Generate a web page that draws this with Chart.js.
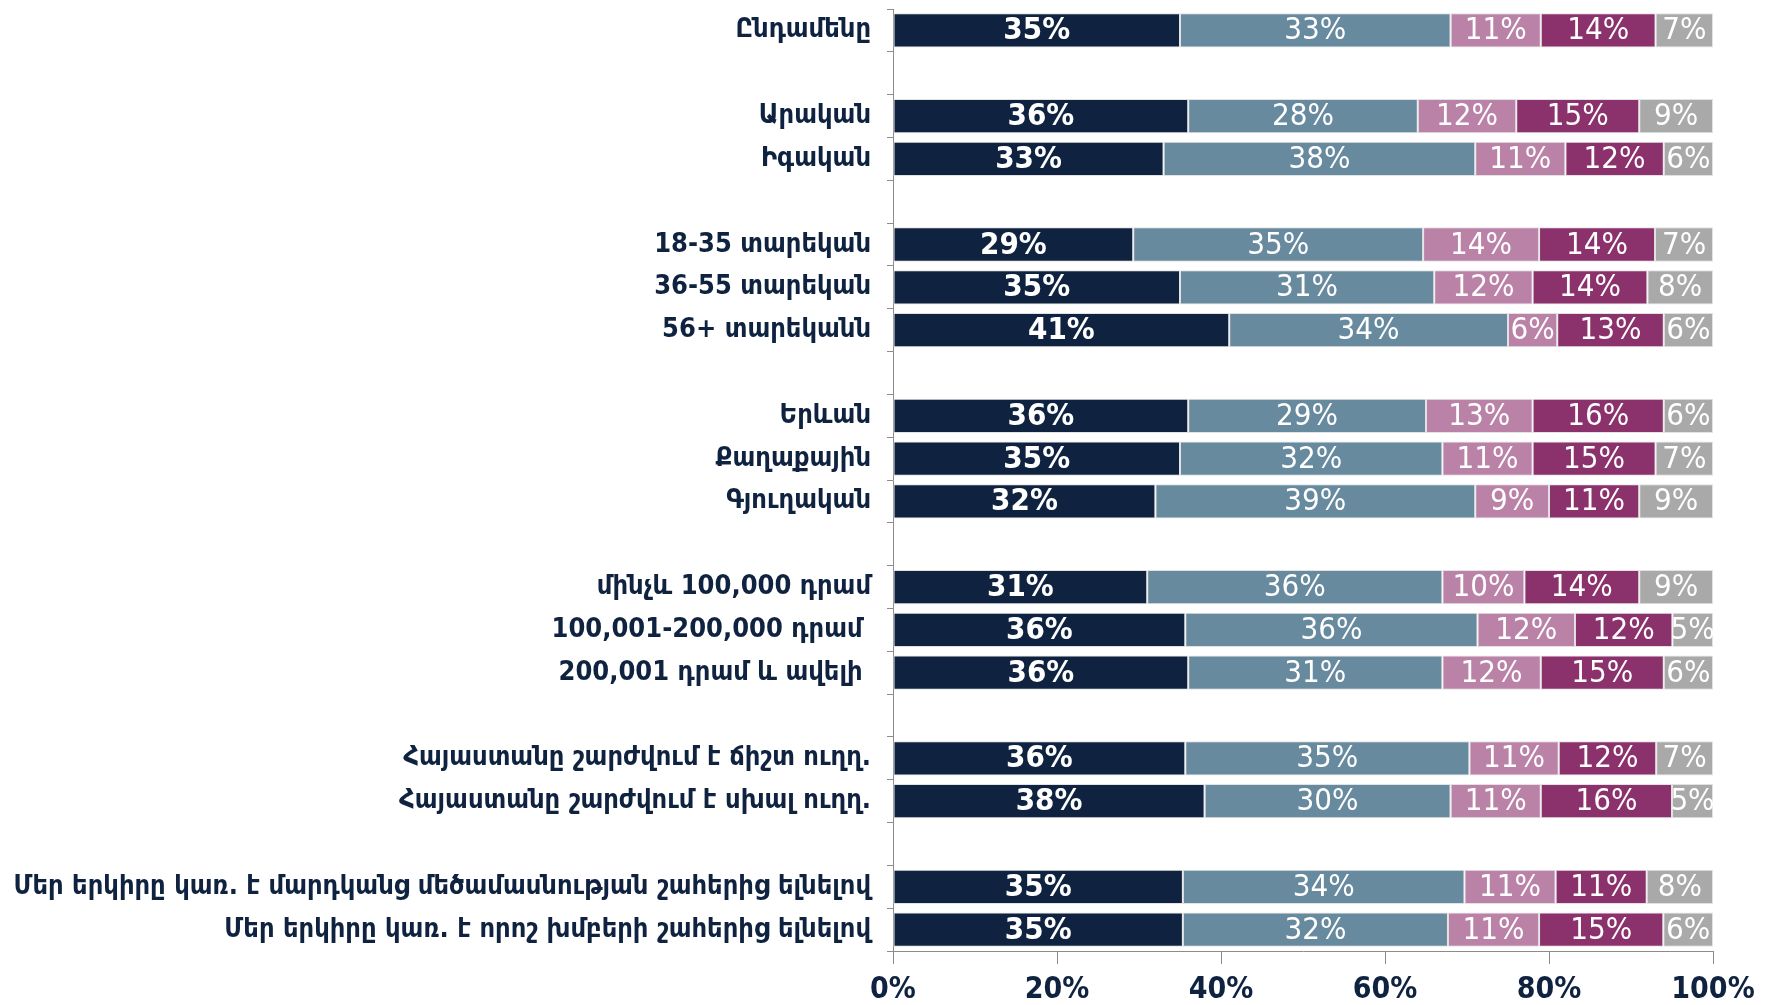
<!DOCTYPE html>
<html>
<head>
<meta charset="utf-8">
<script src="https://cdn.jsdelivr.net/npm/chart.js@4"></script>
<style>
  html, body { margin: 0; padding: 0; background: #ffffff; }
  #wrap { width: 1771px; height: 1005px; position: relative; }
</style>
</head>
<body>
<div id="wrap"><canvas id="mycanvas"></canvas></div>
<script>
// categories ('' = empty spacer row between groups)
const categories = [
    'Ընդամենը', '',
    'Արական', 'Իգական', '',
    '18-35 տարեկան', '36-55 տարեկան', '56+ տարեկանն', '',
    'Երևան', 'Քաղաքային', 'Գյուղական', '',
    'մինչև 100,000 դրամ', '100,001-200,000 դրամ ', '200,001 դրամ և ավելի ', '',
    'Հայաստանը շարժվում է ճիշտ ուղղ.', 'Հայաստանը շարժվում է սխալ ուղղ.', '',
    'Մեր երկիրը կառ. է մարդկանց մեծամասնության շահերից ելնելով', 'Մեր երկիրը կառ. է որոշ խմբերի շահերից ելնելով'
];

// series values, percent (null on spacer rows)
const s1 = [35, null, 36, 33, null, 29, 35, 41, null, 36, 35, 32, null, 31, 36, 36, null, 36, 38, null, 35, 35];
const s2 = [33, null, 28, 38, null, 35, 31, 34, null, 29, 32, 39, null, 36, 36, 31, null, 35, 30, null, 34, 32];
const s3 = [11, null, 12, 11, null, 14, 12, 6, null, 13, 11, 9, null, 10, 12, 12, null, 11, 11, null, 11, 11];
const s4 = [14, null, 15, 12, null, 14, 14, 13, null, 16, 15, 11, null, 14, 12, 15, null, 12, 16, null, 11, 15];
const s5 = [7, null, 9, 6, null, 7, 8, 6, null, 6, 7, 9, null, 9, 5, 6, null, 7, 5, null, 8, 6];

const xTicks = [0, 20, 40, 60, 80, 100];

const seriesList = [s1, s2, s3, s4, s5];
const colors = ['#0f2340', '#678a9e', '#bb82a8', '#8b316b', '#a9a9a9'];

// 100% stacked: scale each row to its total
const totals = categories.map((c, i) => seriesList.reduce((a, s) => a + (s[i] || 0), 0));
const normalized = seriesList.map(s => s.map((v, i) => v == null ? null : v * 100 / totals[i]));

const navy = '#0f2340';
const condensed = '"DejaVu Sans Condensed", "DejaVu Sans", sans-serif';

// draw value labels inside segments
const barLabels = {
    id: 'barLabels',
    afterDatasetsDraw: chart => {
        const ctx = chart.ctx;
        ctx.save();
        ctx.textAlign = 'center';
        ctx.textBaseline = 'middle';
        chart.data.datasets.forEach((ds, di) => {
            const meta = chart.getDatasetMeta(di);
            meta.data.forEach((bar, i) => {
                const raw = seriesList[di][i];
                if (raw == null) return;
                const cx = (bar.x + bar.base) / 2;
                ctx.font = (di === 0 ? 'bold ' : '') + '31px ' + condensed;
                ctx.fillStyle = '#ffffff';
                ctx.fillText(raw + '%', cx, bar.y + 1);
            });
        });
        ctx.restore();
    }
};

function createChart() {
    const ctx = document.getElementById('mycanvas').getContext('2d');
    const myChart = new Chart(ctx, {
        type: 'bar',
        data: {
            labels: categories,
            datasets: normalized.map((d, i) => ({
                data: d,
                backgroundColor: colors[i],
                borderColor: '#e2e2e2',
                borderWidth: 1,
                borderSkipped: false,
                barPercentage: 0.8,
                categoryPercentage: 1.0,
            }))
        },
        options: {
            indexAxis: 'y',
            responsive: false,
            animation: false,
            events: [],
            layout: {
                padding: { top: 9, right: 58, left: 0, bottom: 0 }
            },
            plugins: {
                legend: { display: false },
                tooltip: { enabled: false },
            },
            scales: {
                x: {
                    stacked: true,
                    min: 0,
                    max: 100,
                    afterBuildTicks: scale => {
                        scale.ticks = xTicks.map(v => ({ value: v }));
                    },
                    grid: {
                        drawOnChartArea: false,
                        drawTicks: true,
                        tickLength: 13,
                        color: '#8c8c8c',
                    },
                    border: { color: '#8c8c8c', width: 1 },
                    ticks: {
                        padding: 8,
                        color: navy,
                        font: { family: condensed, size: 30, weight: 'bold' },
                        callback: v => v + '%',
                    },
                    afterFit: scale => { scale.height = 54; },
                },
                y: {
                    stacked: true,
                    grid: {
                        drawOnChartArea: false,
                        drawTicks: true,
                        tickLength: 6,
                        offset: true,
                        color: '#8c8c8c',
                    },
                    border: { color: '#8c8c8c', width: 1 },
                    ticks: {
                        autoSkip: false,
                        padding: 16,
                        color: navy,
                        font: { family: '"DejaVu Sans Condensed", "Noto Sans", sans-serif', size: 27, weight: 'bold' },
                    },
                    afterFit: scale => {
                        scale.width = 893;
                        scale.paddingTop = 0;
                        scale.paddingBottom = 0;
                    },
                },
            },
        },
        plugins: [barLabels],
    });
}

const cv = document.getElementById('mycanvas');
cv.width = 1771;
cv.height = 1005;
createChart();
</script>
</body>
</html>
